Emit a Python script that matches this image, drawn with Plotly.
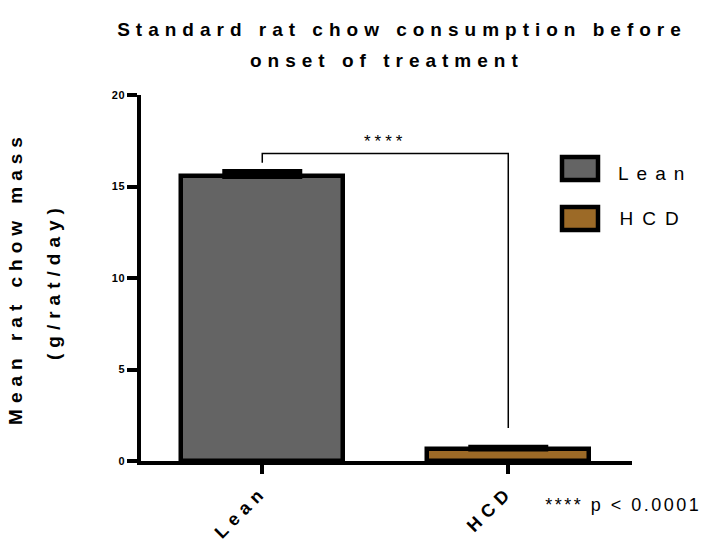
import plotly.graph_objects as go

# ---------------- data ----------------
groups = ["Lean", "HCD"]
means = [15.55, 0.65]
sems = [0.27, 0.10]
y_ticks = [0, 5, 10, 15, 20]
bar_colors = ["#646464", "#9C6A27"]
sig_label = "****"
sig_bracket_top = 16.8
sig_left_end = 16.3
sig_right_end = 1.8
sig_text_y = 17.45
note_text = "**** p < 0.0001"
title_line1 = "Standard rat chow consumption before"
title_line2 = "onset of treatment"
ytitle_line1 = "Mean rat chow mass"
ytitle_line2 = "(g/rat/day)"

# ---------------- layout geometry (pixels) ----------------
W, H = 702, 539
L, R, T, B = 141, 632, 95, 461
FONT = "Liberation Sans, Arial, sans-serif"


def px_x(px):
    return (px - L) / (R - L)


def px_y(py):
    return (B - py) / (B - T)


fig = go.Figure()
fig.add_trace(go.Bar(
    x=groups, y=means, width=0.66,
    marker=dict(color=bar_colors, line=dict(color="black", width=4.5)),
    error_y=dict(type="data", array=sems, arrayminus=[0] * len(sems), symmetric=False,
                 color="black", thickness=5, width=40),
    showlegend=False,
))

shapes = []
# significance bracket
shapes.append(dict(type="path", xref="x", yref="y",
                   path=f"M 0,{sig_left_end} L 0,{sig_bracket_top} L 1,{sig_bracket_top} L 1,{sig_right_end}",
                   line=dict(color="black", width=1.5)))
# legend boxes
legend_rows = [(groups[0], bar_colors[0], 168.5), (groups[1], bar_colors[1], 218.5)]
for name, col, cy in legend_rows:
    shapes.append(dict(type="rect", xref="paper", yref="paper",
                       x0=px_x(562), x1=px_x(598), y0=px_y(cy - 11.5), y1=px_y(cy + 11.5),
                       fillcolor=col, line=dict(color="black", width=4.5)))

annotations = []
# 0: title line 2
annotations.append(dict(text=title_line2, xref="paper", yref="paper", x=px_x(387), y=px_y(61),
                        xanchor="center", yanchor="middle", showarrow=False,
                        font=dict(family=FONT, size=19, color="black", weight="bold")))
# 1: y title line 2
annotations.append(dict(text=ytitle_line2, xref="paper", yref="paper", x=px_x(53), y=px_y(281),
                        xanchor="center", yanchor="middle", showarrow=False, textangle=-90,
                        font=dict(family=FONT, size=19, color="black", weight="bold")))
# 2: stars
annotations.append(dict(text=sig_label, xref="x", yref="y", x=0.5, y=sig_text_y,
                        xanchor="center", yanchor="middle", showarrow=False,
                        font=dict(family=FONT, size=17, color="black")))
# 3,4: legend labels
annotations.append(dict(text=groups[0], xref="paper", yref="paper", x=px_x(655), y=px_y(173),
                        xanchor="center", yanchor="middle", showarrow=False,
                        font=dict(family=FONT, size=19, color="black")))
annotations.append(dict(text=groups[1], xref="paper", yref="paper", x=px_x(653), y=px_y(218),
                        xanchor="center", yanchor="middle", showarrow=False,
                        font=dict(family=FONT, size=19, color="black")))
# 5: p-value note
annotations.append(dict(text=note_text, xref="paper", yref="paper", x=px_x(623), y=px_y(505),
                        xanchor="center", yanchor="middle", showarrow=False,
                        font=dict(family=FONT, size=18, color="black")))

fig.update_layout(
    width=W, height=H, autosize=False,
    margin=dict(l=L, r=W - R, t=T, b=H - B, pad=0, autoexpand=False),
    paper_bgcolor="white", plot_bgcolor="white",
    title=dict(text=title_line1, x=402 / W, xref="container", xanchor="center",
               y=1 - 29 / H, yref="container", yanchor="middle",
               font=dict(family=FONT, size=19, color="black", weight="bold")),
    shapes=shapes, annotations=annotations,
    bargap=0,
)
fig.update_xaxes(
    automargin=False,
    range=[-0.493, 1.503], showgrid=False, zeroline=False,
    showline=True, linecolor="black", linewidth=3.5,
    ticks="outside", ticklen=9, tickwidth=3.5, tickcolor="black",
    tickangle=-45, ticklabelstandoff=0,
    tickfont=dict(family=FONT, size=18, color="black", weight="bold"),
)
fig.update_yaxes(
    automargin=False,
    range=[0, 20], tickvals=y_ticks, showgrid=False, zeroline=False,
    showline=True, linecolor="black", linewidth=3.5,
    ticks="outside", ticklen=10, tickwidth=3.5, tickcolor="black",
    tickfont=dict(family=FONT, size=11, color="black", weight="bold"),
    title=dict(text=ytitle_line1, standoff=86,
               font=dict(family=FONT, size=19, color="black", weight="bold")),
)

post = """
var gd = document.getElementById('{plot_id}');
function applySpacing(){
  function set(sel, v){ gd.querySelectorAll(sel).forEach(function(e){ e.style.letterSpacing = v; }); }
  set('.gtitle', '6px');
  set('.ytitle', '6px');
  set('.xtick text', '6px');
  set('.ytick text', '0.5px');
  var sp = {0:'6px', 1:'6px', 2:'4px', 3:'8px', 4:'9px', 5:'2.5px'};
  Object.keys(sp).forEach(function(i){
    set('.annotation[data-index="'+i+'"] .annotation-text', sp[i]);
  });
}
applySpacing();
gd.on('plotly_afterplot', applySpacing);
"""

fig.write_html("out.html", post_script=post)
